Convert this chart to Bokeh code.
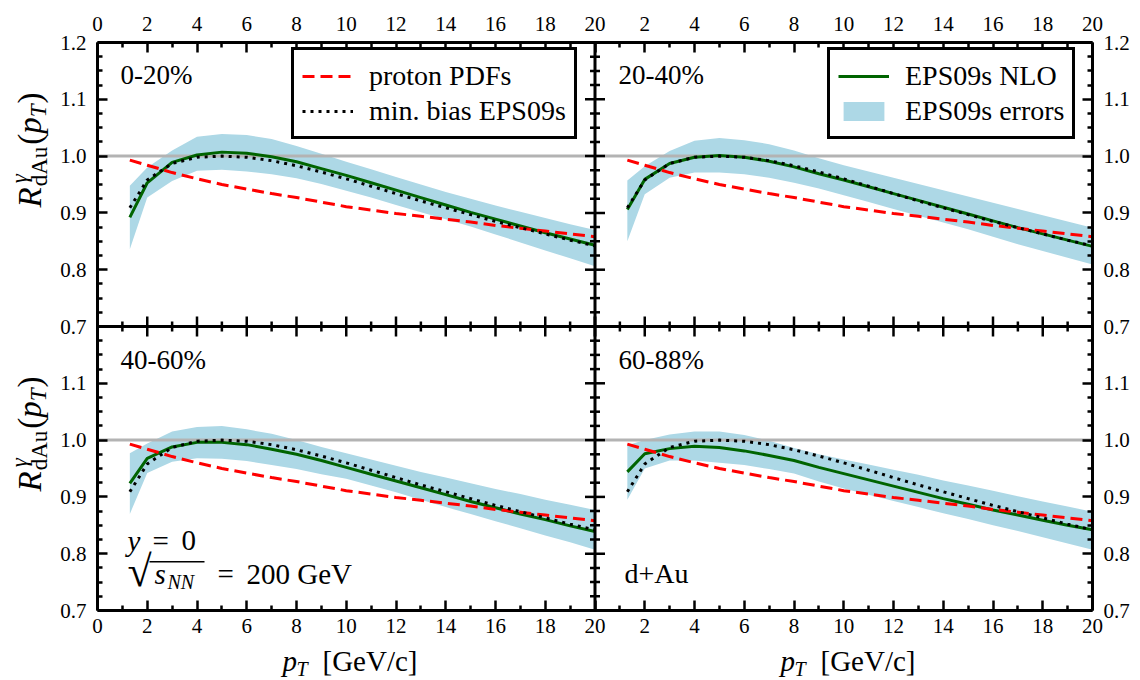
import math
from bokeh.plotting import figure
from bokeh.layouts import row, column
from bokeh.models import (Range1d, LinearAxis, FixedTicker, CustomJSTickFormatter, Span,
                          Label, Legend, LegendItem, BoxAnnotation)
from bokeh.embed import file_html
from bokeh.resources import INLINE

# ---------------- data ----------------
pt = [1.3, 2, 3, 4, 5, 6, 7, 8, 9, 10, 11, 12, 13, 14, 15, 16, 17, 18, 19, 20]

proton_pdfs = [0.993, 0.984, 0.971, 0.960, 0.950, 0.942, 0.934, 0.927, 0.919, 0.911,
               0.905, 0.899, 0.894, 0.889, 0.884, 0.878, 0.873, 0.868, 0.863, 0.858]
min_bias_eps09s = [0.909, 0.958, 0.987, 0.998, 1.000, 0.998, 0.992, 0.983, 0.972, 0.960,
                   0.947, 0.934, 0.921, 0.909, 0.897, 0.885, 0.874, 0.863, 0.852, 0.842]

centralities = ["0-20%", "20-40%", "40-60%", "60-88%"]

nlo_0_20 = [0.892, 0.953, 0.989, 1.002, 1.007, 1.005, 0.999, 0.990, 0.978, 0.966,
            0.953, 0.940, 0.927, 0.914, 0.901, 0.889, 0.877, 0.865, 0.854, 0.843]
up_0_20 = [0.948, 0.980, 1.010, 1.034, 1.039, 1.037, 1.030, 1.018, 1.004, 0.990,
           0.977, 0.963, 0.950, 0.937, 0.925, 0.913, 0.902, 0.891, 0.880, 0.870]
lo_0_20 = [0.836, 0.927, 0.956, 0.974, 0.976, 0.973, 0.968, 0.961, 0.951, 0.939,
           0.927, 0.914, 0.901, 0.889, 0.876, 0.862, 0.848, 0.834, 0.820, 0.806]

nlo_20_40 = [0.906, 0.959, 0.987, 0.998, 1.001, 0.998, 0.991, 0.981, 0.969, 0.958,
             0.946, 0.934, 0.922, 0.910, 0.898, 0.886, 0.874, 0.863, 0.852, 0.841]
up_20_40 = [0.957, 0.982, 1.009, 1.027, 1.032, 1.028, 1.021, 1.010, 0.996, 0.984,
            0.973, 0.962, 0.951, 0.940, 0.929, 0.918, 0.907, 0.896, 0.885, 0.874]
lo_20_40 = [0.850, 0.933, 0.962, 0.971, 0.971, 0.968, 0.962, 0.953, 0.943, 0.931,
            0.919, 0.907, 0.895, 0.883, 0.871, 0.858, 0.845, 0.833, 0.821, 0.809]

nlo_40_60 = [0.924, 0.968, 0.988, 0.996, 0.996, 0.992, 0.984, 0.975, 0.964, 0.952,
             0.940, 0.928, 0.916, 0.904, 0.892, 0.881, 0.870, 0.860, 0.849, 0.839]
up_40_60 = [0.977, 0.994, 1.015, 1.023, 1.025, 1.019, 1.011, 1.000, 0.988, 0.977,
            0.966, 0.955, 0.944, 0.934, 0.924, 0.914, 0.905, 0.895, 0.886, 0.877]
lo_40_60 = [0.870, 0.942, 0.962, 0.968, 0.967, 0.963, 0.956, 0.949, 0.940, 0.932,
            0.920, 0.908, 0.895, 0.882, 0.870, 0.857, 0.845, 0.832, 0.820, 0.807]

nlo_60_88 = [0.944, 0.976, 0.985, 0.989, 0.987, 0.981, 0.973, 0.964, 0.952, 0.941,
             0.930, 0.919, 0.908, 0.897, 0.887, 0.877, 0.868, 0.859, 0.850, 0.842]
up_60_88 = [0.991, 1.000, 1.010, 1.015, 1.015, 1.009, 0.999, 0.986, 0.975, 0.966,
            0.957, 0.948, 0.939, 0.929, 0.920, 0.911, 0.901, 0.892, 0.883, 0.874]
lo_60_88 = [0.895, 0.950, 0.964, 0.964, 0.960, 0.956, 0.949, 0.941, 0.927, 0.915,
            0.904, 0.893, 0.882, 0.871, 0.861, 0.850, 0.840, 0.829, 0.818, 0.807]

x_major = [0, 2, 4, 6, 8, 10, 12, 14, 16, 18, 20]
x_minor = [1, 3, 5, 7, 9, 11, 13, 15, 17, 19]
y_major = [0.7, 0.8, 0.9, 1.0, 1.1, 1.2]
y_minor = [0.725, 0.75, 0.775, 0.825, 0.85, 0.875, 0.925, 0.95, 0.975,
           1.025, 1.05, 1.075, 1.125, 1.15, 1.175]

legend_labels_left = ["proton PDFs", "min. bias EPS09s"]
legend_labels_right = ["EPS09s NLO", "EPS09s errors"]

# ---------------- style ----------------
FONT = "Liberation Serif, Times New Roman, DejaVu Serif, serif"
GREEN = "#006400"
RED = "#ff0000"
BAND = "#add8e6"
GRAY = "#b3b3b3"

# Times-like advance widths (em) for composing the math labels
W_REG = {'(': .333, ')': .333, 'd': .5, 'A': .722, 'u': .5, '[': .333, ']': .333,
         'G': .722, 'e': .444, 'V': .722, '/': .278, 'c': .444, '=': .564, ' ': .25,
         '0': .5, '2': .5}
W_IT = {'R': .611, 'p': .5, 'T': .556, 'y': .444, 's': .389, 'N': .667, 'γ': .44}


def tw(text, size, italic=False):
    tab = W_IT if italic else W_REG
    return sum(tab.get(ch, .5) for ch in text) * size


def put(fig, x, y, text, size, italic=False, angle=0.0):
    # (x, y) is the wanted baseline start; the label anchor sits ~1/3 em above it
    k = 0.33 * size
    if angle:
        x -= k
    else:
        y += k
    fig.add_layout(Label(x=x, y=y, x_units="screen", y_units="screen", text=text,
                         text_font=FONT, text_font_size=f"{size}px",
                         text_font_style="italic" if italic else "normal",
                         text_color="black", angle=angle, text_align="left",
                         text_baseline="alphabetic"))


def blank_fig(w, h):
    return figure(width=w, height=h, x_range=Range1d(0, 1), y_range=Range1d(0, 1),
                  x_axis_type=None, y_axis_type=None,
                  output_backend="svg", toolbar_location=None,
                  min_border_left=0, min_border_right=0, min_border_top=0, min_border_bottom=0,
                  background_fill_color="white", border_fill_color="white",
                  outline_line_color=None)


YT_W = 57          # strip holding the rotated y titles
MAIN_H = 642       # main canvas height
XT_H = 680 - MAIN_H

# ---------------- main canvas: four panels through separate x / y ranges ----------------
p = figure(width=1140 - YT_W, height=MAIN_H,
           x_range=Range1d(0, 40), y_range=Range1d(0.2, 1.2),
           x_axis_type=None, y_axis_type=None,
           output_backend="svg", toolbar_location=None,
           min_border_left=96 - YT_W, min_border_right=48, min_border_top=42,
           min_border_bottom=MAIN_H - 42 - 568,
           background_fill_color="white", border_fill_color="white",
           outline_line_color=None)
p.extra_x_ranges = {"right": Range1d(-20, 20)}
p.extra_y_ranges = {"bottom": Range1d(0.7, 1.7)}

# outer axes (ticks point inwards, labels outside)
y_ticks = [round(v - 0.5, 4) for v in y_major[:-1]] + y_major
y_mticks = [round(v - 0.5, 4) for v in y_minor] + y_minor
x_ticks = x_major + [t + 20 for t in x_major[1:]]
x_mticks = x_minor + [t + 20 for t in x_minor]
y_fmt = "const v = tick < 0.69 ? tick + 0.5 : tick; return v.toFixed(1);"
x_fmt = "const v = tick > 20.5 ? tick - 20 : tick; return v.toFixed(0);"

for side in ("left", "right", "above", "below"):
    vertical = side in ("left", "right")
    ax = LinearAxis(
        ticker=FixedTicker(ticks=y_ticks if vertical else x_ticks,
                           minor_ticks=y_mticks if vertical else x_mticks),
        formatter=CustomJSTickFormatter(code=y_fmt if vertical else x_fmt),
        axis_line_color="black", axis_line_width=3,
        major_tick_in=10, major_tick_out=0, minor_tick_in=5, minor_tick_out=0,
        major_tick_line_width=2.5, minor_tick_line_width=2.5,
        major_tick_line_color="black", minor_tick_line_color="black",
        major_label_standoff={"left": 11, "right": 11, "above": 12, "below": 8}[side],
        major_label_text_font=FONT, major_label_text_font_size="21px",
        major_label_text_color="black")
    p.add_layout(ax, side)

panel_data = [
    ("default", "default", nlo_0_20, up_0_20, lo_0_20),
    ("right", "default", nlo_20_40, up_20_40, lo_20_40),
    ("default", "bottom", nlo_40_60, up_40_60, lo_40_60),
    ("right", "bottom", nlo_60_88, up_60_88, lo_60_88),
]

rend = []
for xn, yn, nlo, up, lo in panel_data:
    kw = dict(x_range_name=xn, y_range_name=yn)
    band = p.varea(x=pt, y1=lo, y2=up, fill_color=BAND, fill_alpha=1.0, level="image", **kw)
    g = p.line(pt, nlo, line_color=GREEN, line_width=3, **kw)
    r = p.line(pt, proton_pdfs, line_color=RED, line_width=3, line_dash="12 6", **kw)
    d = p.line(pt, min_bias_eps09s, line_color="black", line_width=3, line_dash="3 5", **kw)
    rend.append((band, g, r, d))

# reference lines at R = 1 (one per row)
for yn in ("default", "bottom"):
    p.add_layout(Span(location=1.0, dimension="width", y_range_name=yn,
                      line_color=GRAY, line_width=3, level="underlay"))

# inner dividers between the panels
p.add_layout(Span(location=20, dimension="height", line_color="black", line_width=3))
p.add_layout(Span(location=0.7, dimension="width", line_color="black", line_width=3))

# tick marks along the dividers (pointing into both neighbouring panels)
for yn in ("default", "bottom"):
    p.scatter(x=[20] * len(y_major), y=y_major, marker="dash", size=20,
              line_color="black", line_width=2.5, y_range_name=yn)
    p.scatter(x=[20] * len(y_minor), y=y_minor, marker="dash", size=10,
              line_color="black", line_width=2.5, y_range_name=yn)
for xn in ("default", "right"):
    p.scatter(x=x_major, y=[0.7] * len(x_major), marker="dash", size=20, angle=math.pi / 2,
              line_color="black", line_width=2.5, x_range_name=xn)
    p.scatter(x=x_minor, y=[0.7] * len(x_minor), marker="dash", size=10, angle=math.pi / 2,
              line_color="black", line_width=2.5, x_range_name=xn)

# legends
leg_l = Legend(items=[LegendItem(label=legend_labels_left[0], renderers=[rend[0][2]]),
                      LegendItem(label=legend_labels_left[1], renderers=[rend[0][3]])],
               location=(194, 471))
leg_r = Legend(items=[LegendItem(label=legend_labels_right[0], renderers=[rend[1][1]]),
                      LegendItem(label=legend_labels_right[1], renderers=[rend[1][0]])],
               location=(730, 471))
for leg in (leg_l, leg_r):
    leg.label_text_font = FONT
    leg.label_text_font_size = "28px"
    leg.label_text_color = "black"
    leg.glyph_width = 51
    leg.glyph_height = 24
    leg.label_height = 35
    leg.label_standoff = 16
    leg.padding = 8
    leg.spacing = 0
    leg.margin = 0
    leg.border_line_color = "black"
    leg.border_line_alpha = 1.0
    leg.border_line_width = 3
    leg.background_fill_color = "white"
    leg.background_fill_alpha = 1.0
    p.add_layout(leg)

# panel texts (screen offsets from the lower-left corner of the plotting frame)
PW = 498
put(p, 23, 527, centralities[0], 27)
put(p, 23 + PW, 527, centralities[1], 27)
put(p, 23, 242, centralities[2], 27)
put(p, 23 + PW, 242, centralities[3], 27)

put(p, 30, 60, "y", 29, italic=True)
put(p, 55, 60, "=", 29)
put(p, 84, 60, "0", 29)
put(p, 30, 24, "√", 44)
put(p, 57, 27, "s", 29, italic=True)
put(p, 70, 22, "NN", 20, italic=True)
p.add_layout(BoxAnnotation(left=52, right=107, bottom=48, top=49.6,
                           left_units="screen", right_units="screen",
                           bottom_units="screen", top_units="screen",
                           fill_color="black", fill_alpha=1.0,
                           line_alpha=0.0, level="overlay"))
put(p, 120, 27, "=", 29)
put(p, 149, 27, "200 GeV", 29)
put(p, 29 + PW, 28, "d+Au", 28)

# ---------------- strip with the rotated y titles R^gamma_dAu(p_T) ----------------
fy = blank_fig(YT_W, MAIN_H)
for center_y in (183.5, 467.5):          # vertical centres of the two panel rows
    F, S = 33, 23
    x0 = 40
    ang = math.pi / 2
    y = (MAIN_H - center_y) - 55.5
    put(fy, x0, y, "R", F, italic=True, angle=ang)
    y += tw("R", F, True) + 1
    put(fy, x0 - 13, y + 3, "γ", S, italic=True, angle=ang)
    put(fy, x0 + 7, y, "dAu", S, angle=ang)
    y += tw("dAu", S) + 2
    put(fy, x0, y, "(", F, angle=ang)
    y += tw("(", F)
    put(fy, x0, y, "p", F, italic=True, angle=ang)
    y += tw("p", F, True)
    put(fy, x0 + 6, y, "T", S, italic=True, angle=ang)
    y += tw("T", S, True) + 1
    put(fy, x0, y, ")", F, angle=ang)

# ---------------- strip with the x titles p_T [GeV/c] ----------------
fx = blank_fig(1140, XT_H)
for xo in (0, PW):
    yb = 10
    put(fx, 282 + xo, yb, "p", 29, italic=True)
    put(fx, 296 + xo, yb - 5, "T", 20, italic=True)
    put(fx, 322 + xo, yb, "[GeV/c]", 29)

layout = column(row(fy, p), fx)
open("out.html", "w").write(file_html(layout, INLINE))
